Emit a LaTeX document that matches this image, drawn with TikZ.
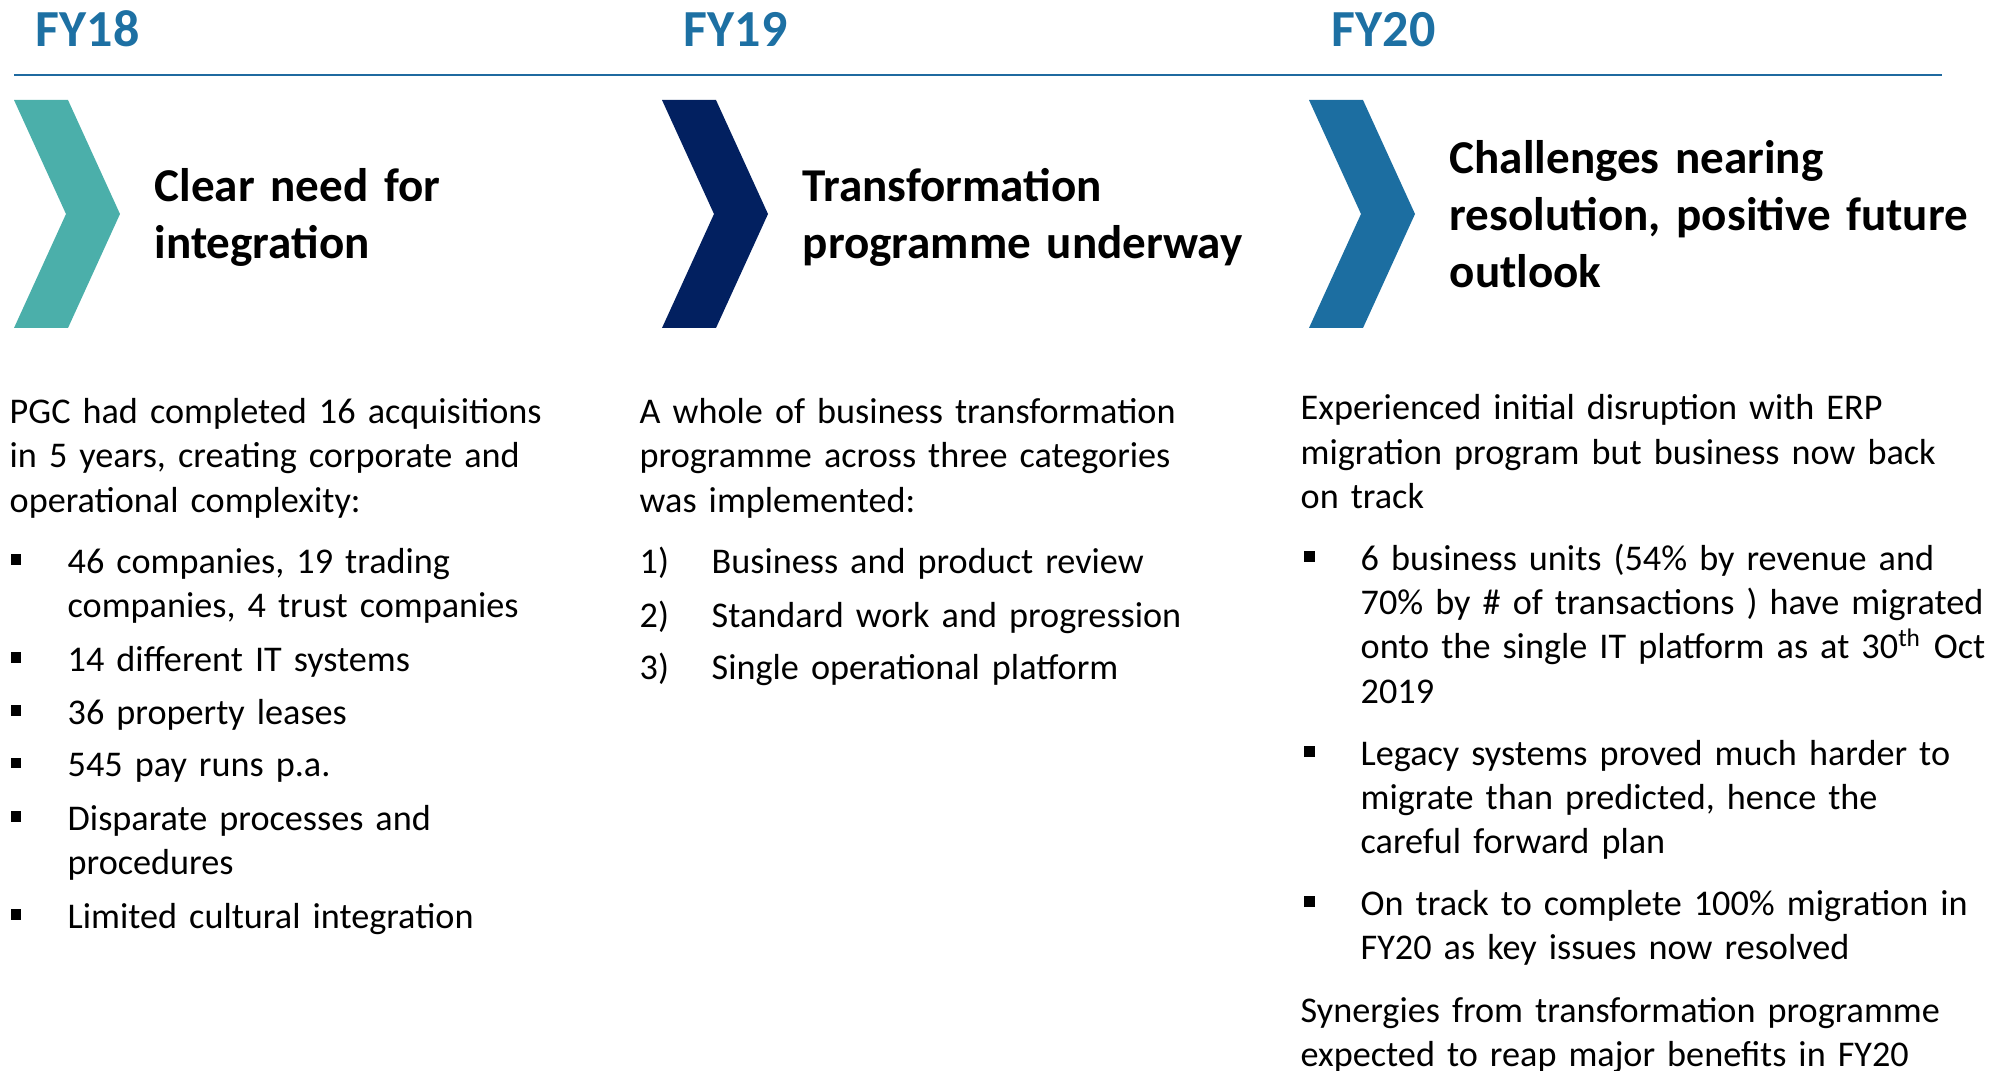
\documentclass[tikz,border=0pt]{standalone}
\usepackage{fontspec}
\setmainfont{Carlito}
\usepackage{xcolor}
\usepackage{tikz}
\definecolor{fyblue}{RGB}{29,112,163}
\definecolor{rulblue}{RGB}{31,106,160}
\definecolor{chevteal}{RGB}{75,175,170}
\definecolor{chevnavy}{RGB}{2,32,96}
\definecolor{chevblue}{RGB}{28,110,161}
\newcommand{\yrfont}{\fontsize{14.8pt}{17pt}\selectfont\bfseries}
\newcommand{\hdfont}{\fontsize{13.4pt}{16.2pt}\selectfont\bfseries}
\newcommand{\bdfont}{\fontsize{10.3pt}{12.66pt}\selectfont}
\tikzset{
  yearlbl/.style={anchor=base west, inner sep=0pt, font=\yrfont, text=fyblue},
  headline/.style={anchor=base west, inner sep=0pt, font=\hdfont,
    text width=5.6cm, align=left},
  bodytext/.style={anchor=base west, inner sep=0pt, font=\bdfont,
    text width=7cm, align=left},
  sqmark/.style={fill=black}
}

\begin{document}
\begin{tikzpicture}
  \useasboundingbox (0,0) rectangle (19.91,-10.71);
  % year row and rule
  \node[yearlbl] (yr18) at (0.35,-0.47) {FY18};
  \node[yearlbl] (yr19) at (6.83,-0.47) {FY19};
  \node[yearlbl] (yr20) at (13.31,-0.47) {FY20};
  \draw[rulblue, line width=0.45pt] (0.14,-0.75) -- (19.42,-0.75);
  % chevrons
  \foreach \x/\c in {0/chevteal, 6.48/chevnavy, 12.95/chevblue}
    \fill[\c, xshift=\x cm] (0.14,-1.00) -- (0.68,-1.00) -- (1.20,-2.14)
      -- (0.68,-3.28) -- (0.14,-3.28) -- (0.66,-2.14) -- cycle;
  \node[headline] (ttl18) at (1.54,-2.02) {Clear need for\\ integration};
  \node[headline] (ttl19) at (8.02,-2.02) {Transformation\\ programme underway};
  \node[headline] (ttl20) at (14.49,-1.74) {Challenges nearing\\ resolution, positive future\\ outlook};
  % FY18 column
  \node[bodytext] (txt18) at (0.09,-4.235) {PGC had completed 16 acquisitions\\ in 5 years, creating corporate and\\ operational complexity:};
  \node[bodytext] (b18a) at (0.67,-5.73) {46 companies, 19 trading\\ companies, 4 trust companies};
  \node[bodytext] (b18b) at (0.67,-6.71) {14 different IT systems};
  \node[bodytext] (b18c) at (0.67,-7.24) {36 property leases};
  \node[bodytext] (b18d) at (0.67,-7.765) {545 pay runs p.a.};
  \node[bodytext] (b18e) at (0.67,-8.30) {Disparate processes and\\ procedures};
  \node[bodytext] (b18f) at (0.67,-9.28) {Limited cultural integration};
  \foreach \n in {a,...,f}
    \fill[sqmark] ([shift={(-0.56,0.085)}]b18\n.base west) rectangle ++(0.105,0.105);
  % FY19 column
  \node[bodytext] (txt19) at (6.39,-4.235) {A whole of business transformation\\ programme across three categories\\ was implemented:};
  \node[bodytext] (s19a) at (6.39,-5.73) {\makebox[0.72cm][l]{1)}Business and product review};
  \node[bodytext] (s19b) at (6.39,-6.27) {\makebox[0.72cm][l]{2)}Standard work and progression};
  \node[bodytext] (s19c) at (6.39,-6.79) {\makebox[0.72cm][l]{3)}Single operational platform};
  % FY20 column
  \node[bodytext] (txt20) at (13.00,-4.20) {Experienced initial disruption with ERP\\ migration program but business now back\\ on track};
  \node[bodytext] (b20a) at (13.60,-5.70) {6 business units (54\% by revenue and\\ 70\% by \# of transactions ) have migrated\\ onto the single IT platform as at 30\textsuperscript{th} Oct\\ 2019};
  \node[bodytext] (b20b) at (13.60,-7.65) {Legacy systems proved much harder to\\ migrate than predicted, hence the\\ careful forward plan};
  \node[bodytext] (b20c) at (13.60,-9.15) {On track to complete 100\% migration in\\ FY20 as key issues now resolved};
  \foreach \n in {a,b,c}
    \fill[sqmark] ([shift={(-0.56,0.085)}]b20\n.base west) rectangle ++(0.105,0.105);
  \node[bodytext] (syn20) at (13.00,-10.22) {Synergies from transformation programme\\ expected to reap major benefits in FY20};
\end{tikzpicture}
\end{document}
